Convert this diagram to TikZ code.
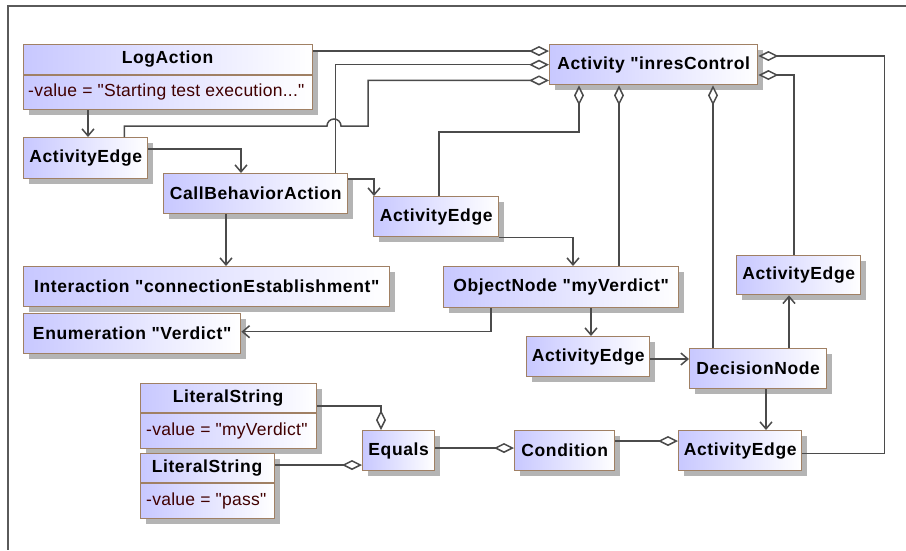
\documentclass[tikz,border=0pt]{standalone}
\usepackage{fontspec}
\setmainfont{Liberation Sans}
\newfontfamily\umltitle{Liberation Sans}[LetterSpace=3.5]
\newfontfamily\umlattr{Liberation Sans}[LetterSpace=1.5]
\usetikzlibrary{arrows.meta,shadows}

\definecolor{umlfill}{RGB}{200,200,255}
\definecolor{umlborder}{RGB}{160,128,100}
\definecolor{umlshadow}{RGB}{180,180,180}
\definecolor{umlline}{RGB}{75,75,75}
\definecolor{attrtext}{RGB}{64,0,0}
\definecolor{framegray}{RGB}{90,90,90}

\tikzset{
  umlbox/.style={draw=umlborder, line width=1.4pt, left color=umlfill, right color=white,
    inner sep=0pt, anchor=north west,
    drop shadow={shadow xshift=5pt, shadow yshift=-5pt, fill=umlshadow, opacity=1},
    font=\umltitle\bfseries\fontsize{17.5}{20}\selectfont},
  titletext/.style={inner sep=0pt, font=\umltitle\bfseries\fontsize{17.5}{20}\selectfont},
  attr/.style={anchor=west, inner sep=0pt, text=attrtext,
    font=\umlattr\fontsize{17.5}{20}\selectfont},
  divider/.style={draw=umlborder, line width=1.4pt},
  conn/.style={draw=umlline, line width=1.5pt},
  arr/.style={conn, -{Straight Barb[length=7pt,width=12pt]}},
  agg/.style={conn, -{Diamond[fill=white,length=20pt,width=10pt]}},
}

\begin{document}
\begin{tikzpicture}[x=1pt,y=-1pt]
\useasboundingbox (0,0) rectangle (906,550);

% diagram frame
\draw[framegray, line width=1.5pt] (906,6) -- (8,6) -- (8,550);

% classifier boxes
\node[umlbox, minimum width=289pt, minimum height=65pt] (logact) at (23,44) {};
\draw[divider] (23,75) -- (312,75);
\node[titletext] (logactT) at (167.5,59.5) {LogAction};
\node[attr] (logactA) at (28,92) {-value = "Starting test execution..."};

\node[umlbox, minimum width=208pt, minimum height=40pt] (act) at (549,44) {Activity "inresControl};
\node[umlbox, minimum width=124pt, minimum height=41pt] (ae1) at (23,137) {ActivityEdge};
\node[umlbox, minimum width=184pt, minimum height=40pt] (cba) at (163,173) {CallBehaviorAction};
\node[umlbox, minimum width=125pt, minimum height=40pt] (ae2) at (373,196) {ActivityEdge};
\node[umlbox, minimum width=366pt, minimum height=40pt] (inter) at (23,266) {Interaction "connectionEstablishment"};
\node[umlbox, minimum width=217pt, minimum height=40pt] (enum) at (23,313) {Enumeration "Verdict"};
\node[umlbox, minimum width=235pt, minimum height=41pt] (obj) at (443,266) {ObjectNode "myVerdict"};
\node[umlbox, minimum width=124pt, minimum height=39pt] (aeR) at (736,255) {ActivityEdge};
\node[umlbox, minimum width=123pt, minimum height=40pt] (ae3) at (526,336) {ActivityEdge};
\node[umlbox, minimum width=137pt, minimum height=40pt] (dec) at (689,348) {DecisionNode};
\node[umlbox, minimum width=123pt, minimum height=40pt] (ae4) at (678,430) {ActivityEdge};
\node[umlbox, minimum width=100pt, minimum height=40pt] (cond) at (514,430) {Condition};
\node[umlbox, minimum width=72pt, minimum height=40pt] (eq) at (362,430) {Equals};

\node[umlbox, minimum width=176pt, minimum height=65pt] (ls1) at (140,383) {};
\draw[divider] (140,413) -- (316,413);
\node[titletext] (ls1T) at (228,398) {LiteralString};
\node[attr] (ls1A) at (146,430.5) {-value = "myVerdict"};

\node[umlbox, minimum width=134pt, minimum height=65pt] (ls2) at (140,453) {};
\draw[divider] (140,483) -- (274,483);
\node[titletext] (ls2T) at (207,468) {LiteralString};
\node[attr] (ls2A) at (146,500.5) {-value = "pass"};

% ownership links to the activity
\draw[agg] ([yshift=-7pt]logact.north east) -- ([yshift=-7pt]act.north west);
\draw[agg] ([xshift=-13pt]cba.north east) |- (act.west);
\draw[agg] ([xshift=-24pt]ae1.north east) -- ++(0,-11) -- (327,126)
  arc[start angle=180, end angle=0, radius=7pt] -- (368,126) |- ([yshift=5pt]act.south west);
\draw[agg] ([xshift=66pt]ae2.north west) -- ++(0,-64) -| ([xshift=30pt]act.south west);
\draw[agg] ([xshift=176pt]obj.north west) -- ([xshift=70pt]act.south west);
\draw[agg] ([xshift=24pt]dec.north west) -- ([xshift=164pt]act.south west);
\draw[agg] ([yshift=-3pt]ae4.east) -- ++(82,0) |- ([yshift=-12pt]act.north east);
\draw[agg] ([xshift=58pt]aeR.north west) |- ([yshift=-31pt]act.north east);

% directed links
\draw[arr] ([xshift=65pt]logact.south west) -- ([xshift=65pt]ae1.north west);
\draw[arr] ([yshift=-12pt]ae1.north east) -| ([xshift=78pt]cba.north west);
\draw[arr] ([yshift=-6pt]cba.north east) -| ([xshift=1pt]ae2.north west);
\draw[arr] ([xshift=63pt]cba.south west) -- ([xshift=203pt]inter.north west);
\draw[arr] (ae2.south east) -| ([xshift=130pt]obj.north west);
\draw[arr] ([xshift=48pt]obj.south west) |- ([yshift=2pt]enum.east);
\draw[arr] ([xshift=148pt]obj.south west) -- ([xshift=65pt]ae3.north west);
\draw[arr] ([yshift=-23pt]ae3.north east) -- ([yshift=-11pt]dec.north west);
\draw[arr] ([xshift=100pt]dec.north west) -- ([xshift=53pt]aeR.south west);
\draw[arr] ([xshift=77pt]dec.south west) -- ([xshift=88pt]ae4.north west);

% expression parts
\draw[agg] ([yshift=-11pt]cond.north east) -- ([yshift=-11pt]ae4.north west);
\draw[agg] ([yshift=-18pt]eq.north east) -- ([yshift=-18pt]cond.north west);
\draw[agg] ([yshift=-23pt]ls1.north east) -| ([xshift=19pt]eq.north west);
\draw[agg] ([yshift=-12pt]ls2.north east) -- ([yshift=-35pt]eq.north west);
\end{tikzpicture}
\end{document}
